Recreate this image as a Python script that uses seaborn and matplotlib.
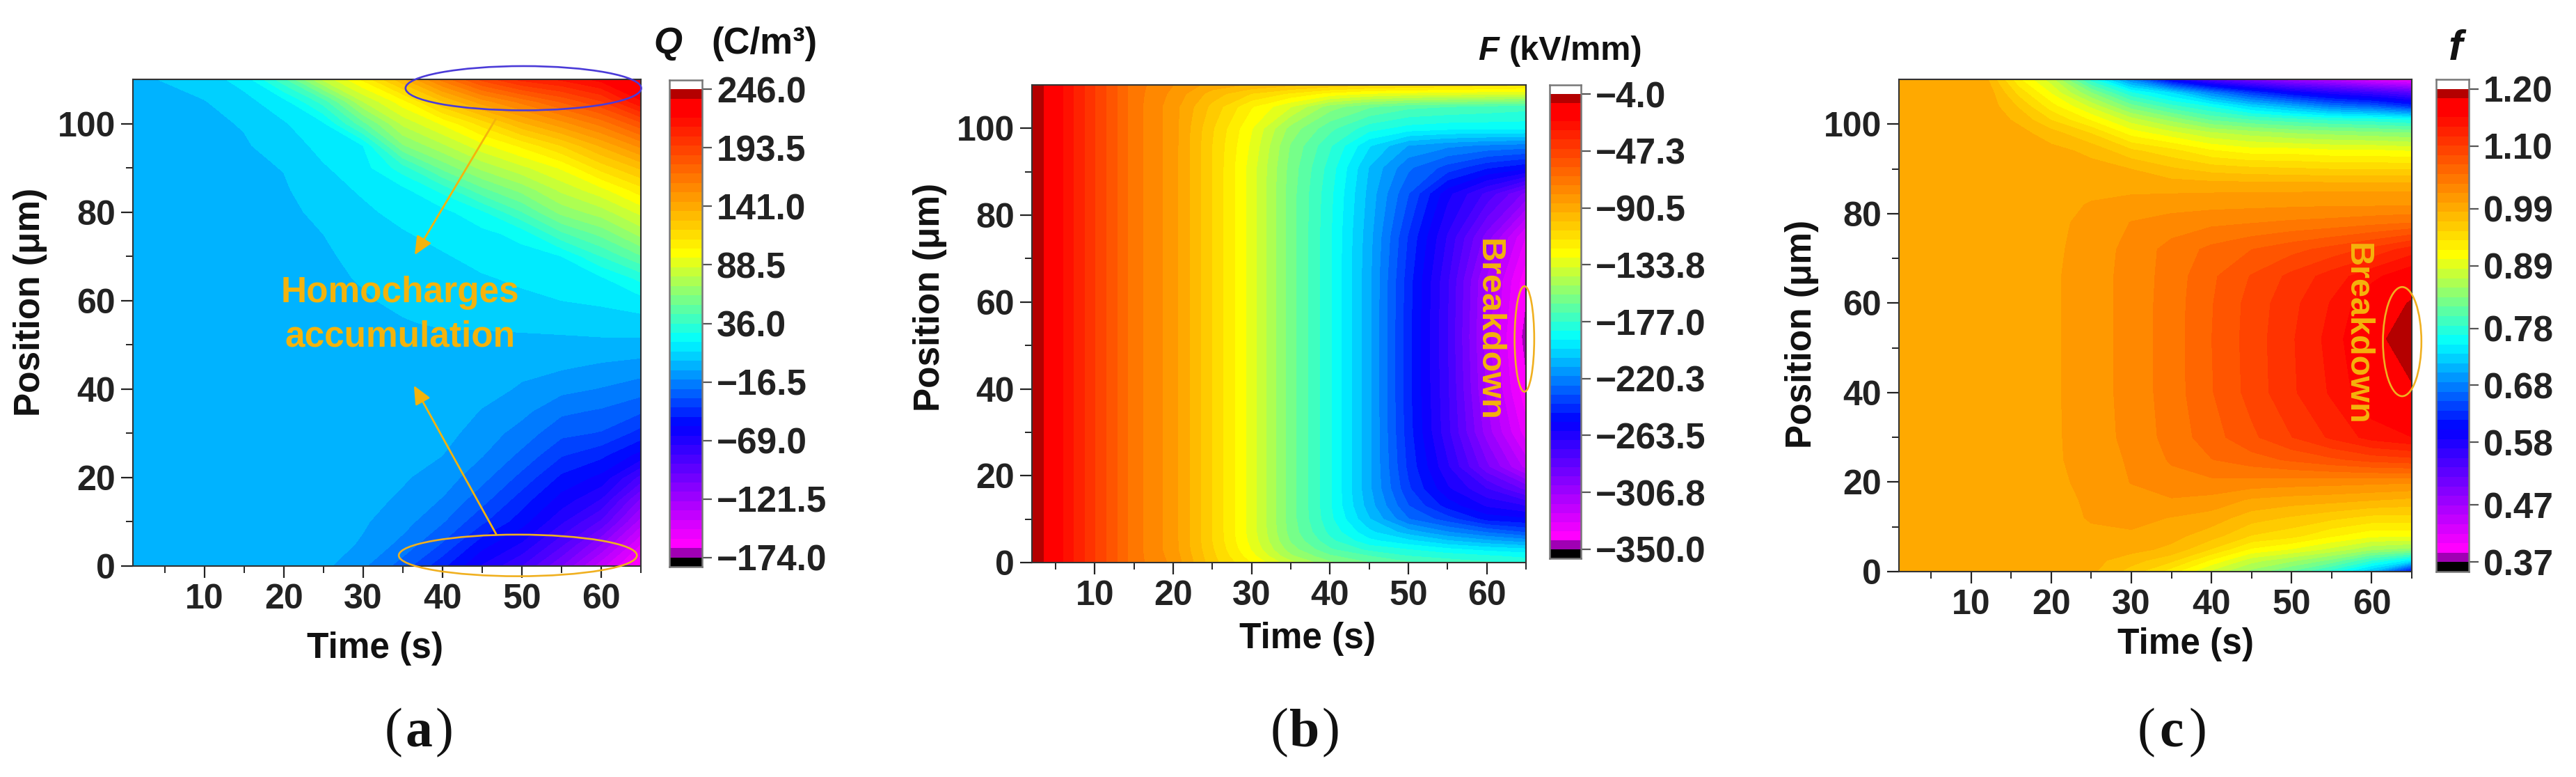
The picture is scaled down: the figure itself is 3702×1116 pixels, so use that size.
import numpy as np
import matplotlib
matplotlib.use("Agg")
import matplotlib.pyplot as plt
from matplotlib.colors import LinearSegmentedColormap, ListedColormap, to_hex
from matplotlib.patches import Ellipse
import seaborn as sns

# ---------- panel (a): space charge density Q ----------
q_time = [1, 10, 15, 20, 25, 30, 35, 40, 45, 50, 55, 60, 65]
q_pos = [0, 5, 10, 15, 20, 25, 30, 35, 40, 45, 50, 55, 60, 65, 70, 75, 80, 85, 90, 95, 100, 105, 110]
q_values = [
    [0, 0, 0, 0, -4, -13, -27, -46, -66, -82, -107, -138, -165],
    [0, 0, 0, 0, -2, -7, -17, -32, -53, -66, -88, -115, -149],
    [0, 0, 0, 0, -1, -5, -11, -22, -38, -53, -72, -92, -128],
    [0, 0, 0, 0, 0, -3, -7.5, -15, -28, -44, -60, -74, -109],
    [0, 0, 0, 0, 0, -2, -5, -10, -20, -34, -50, -59, -85],
    [0, 0, 0, 0, 0, -1, -3, -6, -14, -25, -39, -46, -60],
    [0, 0, 0, 0, 0, 0, -1.5, -3, -10, -18, -29, -32, -43],
    [0, 0, 0, 0, 0, 0, 0, -1, -6.5, -12, -21, -24, -30],
    [0, 0, 0, 0, 0, 0, 0, 0, -3, -7, -12, -15, -19],
    [0, 0, 0, 0, 0, 0, 0, 0, -1, -4, -5, -7.5, -10],
    [0, 0, 0, 0, 0, 0, 0, 0, 0, 0, 0, 0, 0],
    [0, 0, 0, 0, 0, 0.5, 1.9, 3.3, 3.6, 4.3, 5.2, 6.8, 7.1],
    [0, 0, 0, 0, 0, 1.7, 3.8, 5.2, 6.6, 9, 10.8, 12.2, 16],
    [0, 0, 0, 0, 0.8, 3, 5.7, 7.6, 9.9, 12.2, 15, 17.8, 30],
    [0, 0, 0, 0, 1.4, 4.3, 8, 9.9, 13.6, 15.7, 19.2, 36, 52],
    [0, 0, 0, 0, 2.4, 7.1, 9.9, 13.6, 16.4, 22, 42, 55, 72],
    [0, 0, 0, 0.5, 4.3, 9, 13.6, 16.4, 26, 44, 64, 74, 89],
    [0, 0, 0, 1.4, 7.1, 12, 16.8, 30, 50, 64, 80, 92, 108],
    [0, 0, 0.5, 2.7, 9.9, 15.7, 32, 55, 72, 84, 96, 115, 130],
    [0, 0, 1.5, 6, 13.6, 19.2, 60, 76, 92, 105, 120, 138, 156],
    [0, 0.5, 3, 9.9, 17.8, 50, 80, 96, 115, 135, 150, 165, 185],
    [0, 2, 8, 16, 40, 78, 100, 128, 150, 165, 180, 195, 220],
    [0, 7, 14, 42, 80, 105, 135, 165, 190, 207, 214, 224, 232],
]
q_ticks = [-174.0, -121.5, -69.0, -16.5, 36.0, 88.5, 141.0, 193.5, 246.0]
q_ticklabels = ["\u2212174.0", "\u2212121.5", "\u221269.0", "\u221216.5", "36.0", "88.5", "141.0", "193.5", "246.0"]

# ---------- panel (b): electric field F ----------
f_time = [2, 3.5, 5, 10, 15, 20, 25, 30, 35, 40, 45, 50, 55, 60, 65]
f_pos = [0, 1.5, 3, 5, 7, 10, 13, 17, 22, 30, 40, 52, 65, 75, 85, 91, 96, 100, 105, 108, 110]
f_values = [
    [-5, -11, -20, -45, -70, -82, -105, -122, -140, -155, -163, -169, -173, -176, -179],
    [-5, -11, -20, -45, -70, -83, -106, -126, -148, -162, -170, -177, -180, -183, -186],
    [-5, -11, -20, -45, -70, -84, -107, -129, -153, -169, -179, -184, -189, -193, -196],
    [-5, -11, -20, -45, -70, -84, -108, -131, -157, -175, -189, -196, -204, -210, -215],
    [-5, -11, -20, -45, -70, -84, -108, -132, -159, -179, -196, -208, -218, -226, -233],
    [-5, -11, -20, -45, -70, -84, -108, -132, -160, -182, -204, -225, -236, -249, -252],
    [-5, -11, -20, -45, -70, -84, -108, -132, -160, -183, -208, -232, -249, -261, -267],
    [-5, -11, -20, -45, -70, -84, -108, -132, -160, -183, -210, -238, -259, -274, -290],
    [-5, -11, -20, -45, -70, -84, -108, -132, -160, -183, -210, -241, -266, -293, -318],
    [-5, -11, -20, -45, -70, -84, -108, -132, -160, -183, -210, -243, -272, -305, -333],
    [-5, -11, -20, -45, -70, -84, -108, -132, -160, -183, -210, -244, -273, -310, -342],
    [-5, -11, -20, -45, -70, -84, -108, -132, -160, -183, -210, -244, -274, -312, -347],
    [-5, -11, -20, -45, -70, -84, -108, -132, -160, -183, -210, -243, -273, -310, -341],
    [-5, -11, -20, -45, -70, -84, -108, -132, -160, -183, -209, -240, -268, -298, -330],
    [-5, -11, -20, -45, -70, -84, -108, -132, -160, -182, -207, -232, -258, -276, -297],
    [-5, -11, -20, -45, -70, -84, -108, -132, -159, -180, -205, -224, -235, -245, -251],
    [-5, -11, -20, -45, -70, -84, -108, -130, -157, -176, -197, -212, -217, -220, -222],
    [-5, -11, -20, -45, -70, -84, -107, -128, -152, -168, -181, -187, -189, -189, -189],
    [-5, -11, -20, -45, -70, -84, -103, -121, -135, -153, -162, -168, -170, -172, -174],
    [-5, -11, -20, -45, -70, -82, -97, -108, -116, -124, -129, -131, -132, -133, -134],
    [-5, -11, -20, -45, -70, -80, -90, -95, -99, -103, -106, -108, -110, -112, -114],
]
f_ticks = [-350.0, -306.8, -263.5, -220.3, -177.0, -133.8, -90.5, -47.3, -4.0]
f_ticklabels = ["\u2212350.0", "\u2212306.8", "\u2212263.5", "\u2212220.3", "\u2212177.0", "\u2212133.8", "\u221290.5", "\u221247.3", "\u22124.0"]

# ---------- panel (c): field factor f ----------
r_time = [1, 12, 16, 20, 25, 30, 35, 40, 45, 50, 55, 60, 65]
r_pos = [0, 2.5, 5, 8, 12, 16, 20, 25, 30, 40, 52, 60, 66, 72, 78, 82, 86, 90, 94, 98, 101, 104, 107, 110]
r_values = [
    [.995, .995, .995, .995, .988, .96, .925, .88, .845, .815, .775, .715, .60],
    [.995, .995, .995, .995, .99, .975, .955, .915, .875, .855, .83, .785, .745],
    [.995, .995, .995, .995, .995, .99, .98, .95, .915, .90, .88, .855, .845],
    [.995, .995, .995, .995, .998, .998, .99, .975, .95, .94, .92, .905, .905],
    [.995, .995, .995, .995, 1.002, 1.006, 1.0, .993, .975, .965, .955, .945, .945],
    [.995, .995, .995, .996, 1.003, 1.012, 1.016, 1.012, .998, .993, .99, .985, .98],
    [.995, .995, .995, .997, 1.005, 1.018, 1.028, 1.03, 1.028, 1.026, 1.024, 1.022, 1.02],
    [.995, .995, .995, .998, 1.007, 1.02, 1.036, 1.05, 1.06, 1.07, 1.08, 1.09, 1.095],
    [.995, .995, .995, .998, 1.008, 1.023, 1.04, 1.06, 1.08, 1.10, 1.12, 1.14, 1.15],
    [.995, .995, .995, .998, 1.009, 1.024, 1.042, 1.066, 1.09, 1.114, 1.136, 1.165, 1.18],
    [.995, .995, .995, .998, 1.009, 1.024, 1.042, 1.067, 1.091, 1.115, 1.14, 1.175, 1.198],
    [.995, .995, .995, .998, 1.009, 1.024, 1.042, 1.066, 1.09, 1.112, 1.135, 1.165, 1.186],
    [.995, .995, .995, .998, 1.009, 1.024, 1.041, 1.064, 1.085, 1.105, 1.125, 1.145, 1.165],
    [.995, .995, .995, .997, 1.008, 1.023, 1.04, 1.055, 1.067, 1.078, 1.09, 1.105, 1.125],
    [.995, .995, .995, .996, 1.006, 1.018, 1.025, 1.03, 1.033, 1.037, 1.04, 1.045, 1.05],
    [.995, .995, .995, .995, 1.002, 1.008, 1.01, 1.012, 1.013, 1.014, 1.015, 1.015, 1.015],
    [.995, .995, .995, .995, .996, .995, .995, .995, .995, .995, .995, .995, .995],
    [.995, .995, .995, .995, .99, .984, .97, .96, .955, .953, .95, .95, .95],
    [.995, .995, .995, .99, .98, .955, .94, .92, .91, .91, .905, .905, .90],
    [.995, .995, .99, .975, .95, .91, .89, .87, .86, .85, .845, .84, .835],
    [.995, .995, .98, .95, .915, .875, .845, .815, .80, .79, .78, .775, .765],
    [.995, .995, .965, .925, .88, .825, .79, .765, .73, .705, .675, .66, .63],
    [.995, .995, .945, .90, .835, .77, .735, .68, .635, .60, .575, .555, .53],
    [.995, .986, .92, .875, .775, .68, .59, .535, .50, .47, .45, .42, .40],
]
r_ticks = [0.37, 0.47, 0.58, 0.68, 0.78, 0.89, 0.99, 1.10, 1.20]
r_ticklabels = ["0.37", "0.47", "0.58", "0.68", "0.78", "0.89", "0.99", "1.10", "1.20"]

x_major = [10, 20, 30, 40, 50, 60]
x_minor = [5, 15, 25, 35, 45, 55, 65]
y_major = [0, 20, 40, 60, 80, 100]
y_minor = [10, 30, 50, 70, 90]

# ---------- rainbow palette stops ----------
stop_pos = [0.0, 0.03, 0.282, 0.464, 0.65, 0.95, 1.0]
stop_rgb = [(1, 0, 1), (1, 0, 1), (0, 0, 1), (0, 1, 1), (1, 1, 0), (1, 0, 0), (1, 0, 0)]

W, H = 3702, 1116
N_BANDS = 50
ORANGE = "#f4b30c"

sns.set_theme(style="ticks", rc={"axes.edgecolor": "#333333", "axes.linewidth": 1.5,
                                 "xtick.color": "#222222", "ytick.color": "#222222",
                                 "text.color": "#111111", "axes.labelcolor": "#111111"})
plt.rcParams["font.family"] = ["Liberation Sans", "DejaVu Sans"]

rainbow = LinearSegmentedColormap.from_list("origin_rainbow", list(zip(stop_pos, stop_rgb)), N=1024)
band_colors = (["#a000b4"]
               + [to_hex(rainbow((i + 1.5) / N_BANDS)) for i in range(N_BANDS - 2)]
               + ["#b40000"])

fig = plt.figure(figsize=(W / 100, H / 100), dpi=100, facecolor="white")


def box(l, t, r, b):
    return fig.add_axes([l / W, 1 - b / H, (r - l) / W, (b - t) / H])


def ftext(x, y, s, **kw):
    fig.text(x / W, 1 - y / H, s, **kw)


def panel(rect, cb_rect, tt, pp, zz, ticks, labels, xl, yl, tmin):
    l, t, r, b = rect
    ax = box(l, t, r, b)
    vmin, vmax = ticks[0], ticks[-1]
    levels = np.linspace(vmin, vmax, N_BANDS + 1)
    ax.contourf(tt, pp, np.array(zz), levels=levels, colors=band_colors,
                extend="both", antialiased=False)
    ax.set_xlim(tmin, 65)
    ax.set_ylim(0, 110)
    ax.set_xticks(x_major)
    ax.set_xticks(x_minor, minor=True)
    ax.set_yticks(y_major)
    ax.set_yticks(y_minor, minor=True)
    ax.tick_params(axis="both", which="major", length=12, width=1.6, labelsize=36, pad=6)
    ax.tick_params(axis="both", which="minor", length=7, width=1.4)
    for lab in ax.get_xticklabels() + ax.get_yticklabels():
        lab.set_fontweight("bold")
    ax.grid(False)
    ftext(xl[0], xl[1], "Time (s)", fontsize=37, fontweight="bold", ha="center", va="center")
    ftext(yl[0], yl[1], "Position (\u03bcm)", fontsize=37, fontweight="bold", ha="center",
          va="center", rotation=90)

    # colour scale: one row per band, plus the under and over rows
    cax = box(*cb_rect)
    strip = np.arange(N_BANDS + 2)[::-1].reshape(-1, 1)
    sns.heatmap(strip, ax=cax, cbar=False, cmap=ListedColormap(["black"] + band_colors + ["white"]),
                xticklabels=False, yticklabels=False, vmin=-0.5, vmax=N_BANDS + 1.5)
    cax.set_ylim(N_BANDS + 2, 0)
    pos = [N_BANDS + 1 - (v - vmin) / (vmax - vmin) * N_BANDS for v in ticks]
    cax.yaxis.tick_right()
    cax.set_yticks(pos)
    cax.set_yticklabels(labels, fontsize=37, fontweight="bold", rotation=0)
    cax.tick_params(axis="y", length=10, width=1.6, pad=5, color="#555555")
    cax.tick_params(axis="x", length=0)
    for s in cax.spines.values():
        s.set_visible(True)
        s.set_color("#777777")
        s.set_linewidth(1.8)
    return ax


def letter(x, y, ch):
    ftext(x - 24, y, "(", fontsize=56, family="Liberation Serif", ha="right", va="center")
    ftext(x, y, ch, fontsize=56, family="Liberation Serif", fontweight="bold", ha="center", va="center")
    ftext(x + 24, y, ")", fontsize=56, family="Liberation Serif", ha="left", va="center")


def oval(ax, cx, cy, w, h, color):
    ax.add_patch(Ellipse((cx, cy), w, h, fill=False, edgecolor=color, linewidth=1.9, clip_on=False, zorder=5))


def arrow(ax, start, end):
    ax.annotate("", xy=end, xytext=start, annotation_clip=False,
                arrowprops=dict(arrowstyle="-|>,head_length=1.0,head_width=0.45", color=ORANGE,
                                lw=2.0, mutation_scale=16, shrinkA=0, shrinkB=0))


ax_a = panel((191, 114, 921, 813), (962, 115, 1009, 814), q_time, q_pos, q_values, q_ticks, q_ticklabels,
             (539, 932), (43, 434), 1)
ax_b = panel((1483, 122, 2193, 808), (2227, 122, 2272, 802), f_time, f_pos, f_values, f_ticks, f_ticklabels,
             (1879, 918), (1336, 427), 2)
ax_c = panel((2729, 114, 3466, 821), (3501, 114, 3548, 821), r_time, r_pos, r_values, r_ticks, r_ticklabels,
             (3141, 925), (2590, 480), 1)

# panel (a) annotations
oval(ax_a, 50.2, 108, 29.7, 10, "#4b3bd8")
oval(ax_a, 49.5, 2.4, 30, 9.4, "#f0b020")
arrow(ax_a, (46.7, 101), (36.5, 70.3))
arrow(ax_a, (46.8, 7.1), (36.4, 40.8))
ax_a.text(34.7, 56.8, "Homocharges\naccumulation", color=ORANGE, fontsize=37, fontweight="bold",
          ha="center", va="center", linespacing=1.38)

# panel (b) annotations
ax_b.text(60.2, 53.6, "Breakdown", color=ORANGE, fontsize=35, fontweight="bold", rotation=-90,
          ha="center", va="center")
oval(ax_b, 64.8, 51.5, 2.5, 24.3, "#f0b020")

# panel (c) annotations
ax_c.text(58.2, 53, "Breakdown", color=ORANGE, fontsize=35, fontweight="bold", rotation=-90,
          ha="center", va="center")
oval(ax_c, 63.8, 51.4, 4.8, 24.4, "#f0b020")

# colour-scale titles
ftext(960, 63, "Q", fontsize=38, fontweight="bold", fontstyle="italic", ha="center", va="center")
ftext(1022, 63, "(C/m\u00b3)", fontsize=38, fontweight="bold", ha="left", va="center")
ftext(2139, 73, "F", fontsize=35, fontweight="bold", fontstyle="italic", ha="center", va="center")
ftext(2169, 73, "(kV/mm)", fontsize=35, fontweight="bold", ha="left", va="center")
ftext(3529, 71, "f", fontsize=44, fontweight="bold", fontstyle="italic", ha="center", va="center")

letter(602, 1053, "a")
letter(1875, 1053, "b")
letter(3121, 1053, "c")

fig.savefig("out.png", dpi=100, facecolor="white")
